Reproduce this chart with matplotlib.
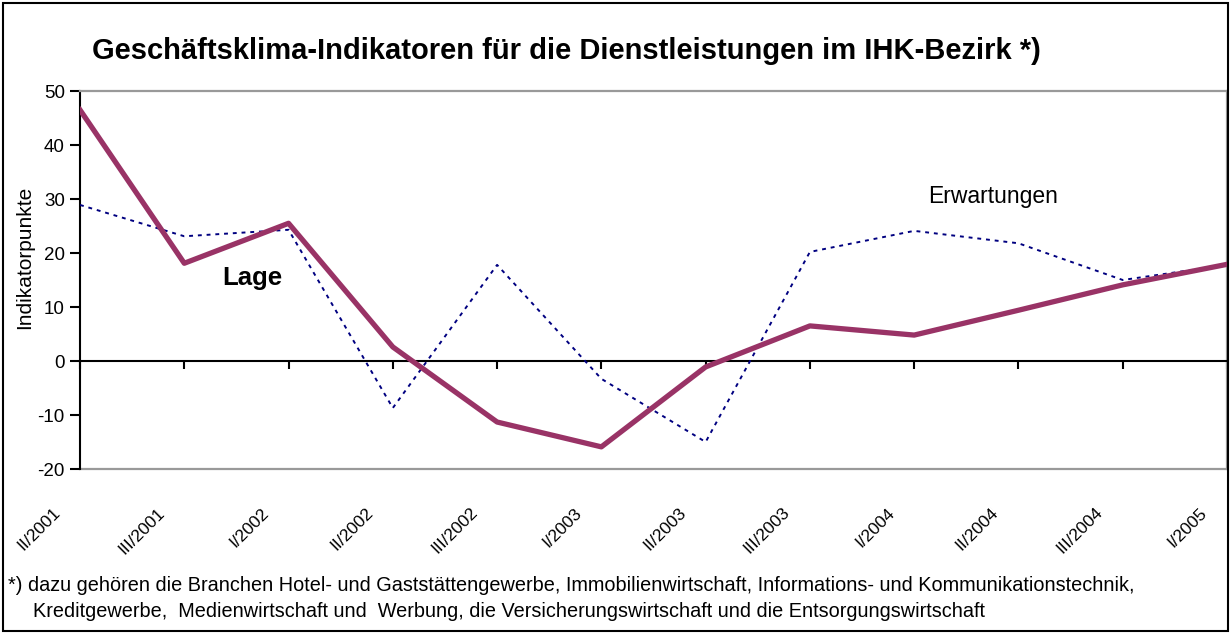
import matplotlib
matplotlib.use('Agg')
import matplotlib.pyplot as plt
from matplotlib.patches import Rectangle
from matplotlib.transforms import ScaledTranslation, blended_transform_factory

categories = ['II/2001', 'III/2001', 'I/2002', 'II/2002', 'III/2002', 'I/2003',
              'II/2003', 'III/2003', 'I/2004', 'II/2004', 'III/2004', 'I/2005']
lage = [46.5, 18.1, 25.5, 2.6, -11.3, -15.9, -1.1, 6.5, 4.8, 9.4, 14.1, 17.9]
erwartungen = [28.9, 23.1, 24.3, -8.7, 17.8, -3.3, -15.0, 20.2, 24.1, 21.8, 15.0, 17.8]
yticks = [-20, -10, 0, 10, 20, 30, 40, 50]

title = 'Geschäftsklima-Indikatoren für die Dienstleistungen im IHK-Bezirk *)'
ylabel = 'Indikatorpunkte'
foot1 = '*) dazu gehören die Branchen Hotel- und Gaststättengewerbe, Immobilienwirtschaft, Informations- und Kommunikationstechnik,'
foot2 = 'Kreditgewerbe,  Medienwirtschaft und  Werbung, die Versicherungswirtschaft und die Entsorgungswirtschaft'

plt.rcParams['font.family'] = ['Liberation Sans', 'DejaVu Sans']

W, H = 1231, 633
fig = plt.figure(figsize=(W / 100, H / 100), dpi=100)
fig.patch.set_facecolor('white')

ax = fig.add_axes([80 / W, 1 - 469 / H, (1227 - 80) / W, (469 - 91) / H])
x = list(range(len(categories)))

ax.plot(x, erwartungen, color='#000080', lw=1.4, ls=(0, (2, 2.5)), zorder=3)
ax.plot(x, lage, color='#993366', lw=3.8, solid_joinstyle='round', zorder=4)

ax.set_xlim(0, len(categories) - 1)
ax.set_ylim(-20, 50)
ax.set_yticks(yticks)
ax.set_yticklabels([str(v) for v in yticks])
ax.set_xticks(x)

ax.spines['bottom'].set_position(('data', 0))
ax.spines['bottom'].set_color('black')
ax.spines['bottom'].set_linewidth(1.5)
ax.spines['left'].set_color('black')
ax.spines['left'].set_linewidth(1.5)
for s in ['top', 'right']:
    ax.spines[s].set_color('#999999')
    ax.spines[s].set_linewidth(1.6)
ax.axhline(-20, color='#999999', lw=1.6, clip_on=False, zorder=1)

ax.tick_params(axis='x', direction='out', length=6, width=1.5, labelbottom=False)
ax.tick_params(axis='y', direction='out', length=7, width=1.5, labelsize=13.5, pad=4)

trans = blended_transform_factory(ax.transData, ax.transAxes) + \
    ScaledTranslation(-17 / 100, -36 / 100, fig.dpi_scale_trans)
for i, lab in enumerate(categories):
    ax.text(i, 0, lab, transform=trans, rotation=45, ha='right', va='top',
            fontsize=12.5)

ax.text(1.36, 14.1, 'Lage', fontsize=18.5, fontweight='bold', ha='left', va='baseline')
ax.text(8.13, 29.3, 'Erwartungen', fontsize=16.5, ha='left', va='baseline')

fig.text(566.5 / W, 1 - 59 / H, title, ha='center', va='baseline', fontsize=21,
         fontweight='bold')
fig.text(25 / W, 1 - 257 / H, ylabel, rotation=90, ha='center', va='center',
         fontsize=15)
fig.text(8 / W, 1 - 591 / H, foot1, ha='left', va='baseline', fontsize=14.3)
fig.text(33 / W, 1 - 617 / H, foot2, ha='left', va='baseline', fontsize=14.3)

fig.add_artist(Rectangle((3 / W, 2 / H), (W - 6) / W, (H - 5) / H,
                         transform=fig.transFigure, fill=False,
                         edgecolor='black', lw=1.5))

fig.savefig('out.png', dpi=100, facecolor='white')
